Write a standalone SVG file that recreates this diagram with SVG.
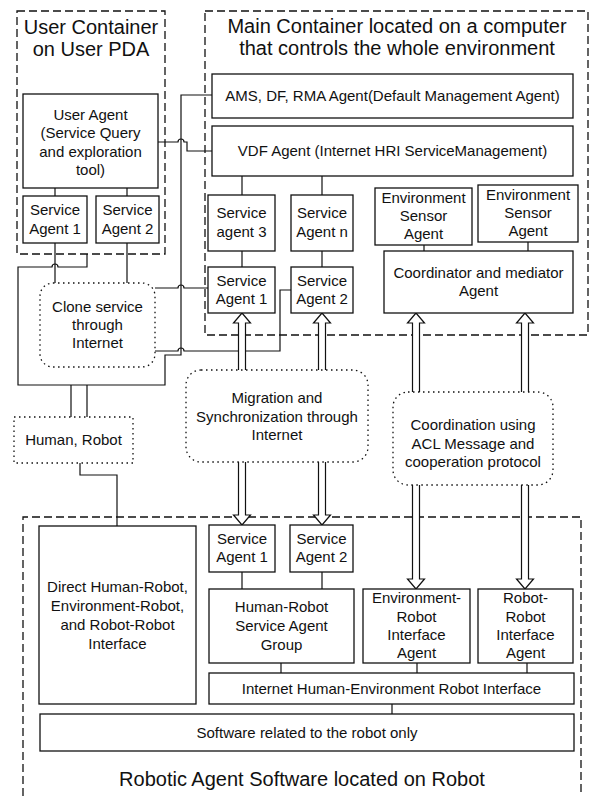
<svg xmlns="http://www.w3.org/2000/svg" width="590" height="796" viewBox="0 0 590 796">
<style>
text{font-family:"Liberation Sans",Arial,sans-serif;font-size:15px;fill:#111;text-anchor:middle}
.t{font-size:20px}
.box{fill:#fff;stroke:#111;stroke-width:1.3}
.cont{fill:none;stroke:#111;stroke-width:1.3;stroke-dasharray:8,4}
.dot{fill:#fff;stroke:#111;stroke-width:1.3;stroke-dasharray:1.5,3.5}
.ln{fill:none;stroke:#111;stroke-width:1.2}
.arr{fill:#fff;stroke:#111;stroke-width:1.2}
</style>
<rect width="590" height="796" fill="#fff"/>
<g id="user-container">
<rect class="cont" x="17" y="11" width="148" height="243"/>
<text class="t" x="91" y="34">User Container</text>
<text class="t" x="91" y="56">on User PDA</text>
</g>
<g id="main-container">
<rect class="cont" x="205" y="11" width="383" height="324"/>
<text class="t" x="397" y="33">Main Container located on a computer</text>
<text class="t" x="397" y="55">that controls the whole environment</text>
</g>
<g id="robot-container">
<path class="cont" d="M23,796 V517 H581 V796"/>
<text class="t" x="302" y="786">Robotic Agent Software located on Robot</text>
</g>
<g id="connectors">
<path class="ln" d="M212,95 H181 V355 H165 V385 H18 V267 H52 a3,3 0 0 1 6,0 H87 V254"/>
<path class="ln" d="M71,385 V417 M87,385 V417"/>
<path class="ln" d="M158,142 H178 a3,3 0 0 1 6,0 H187 V151 H212"/>
<path class="ln" d="M155,288 H178 a3,3 0 0 1 6,0 H208"/>
<path class="ln" d="M155,351 H178 a3,3 0 0 1 6,0 H280 V290 H291"/>
<path class="ln" d="M55,243 V283 M127,243 V283 M55,188 V196 M127,188 V196"/>
<path class="ln" d="M242,176 V195 M322,176 V195 M242,251 V267 M322,251 V267"/>
<path class="ln" d="M424,245 V251 M528,242 V251"/>
<path class="ln" d="M80,463 V475 H117 V526"/>
<path class="ln" d="M242,572 V589 M322,572 V589"/>
<path class="ln" d="M281,663 V673 M417,663 V673 M527,663 V673 M392,704 V714"/>
<path class="arr" d="M238.5,370 V323 H233.5 L242,313 L250.5,323 H245.5 V370"/>
<path class="arr" d="M318.5,370 V323 H313.5 L322,313 L330.5,323 H325.5 V370"/>
<path class="arr" d="M412.5,392 V323 H407.5 L416,313 L424.5,323 H419.5 V392"/>
<path class="arr" d="M521.5,392 V323 H516.5 L525,313 L533.5,323 H528.5 V392"/>
<path class="arr" d="M238.5,462 V515 H233.5 L242,525 L250.5,515 H245.5 V462"/>
<path class="arr" d="M318.5,462 V515 H313.5 L322,525 L330.5,515 H325.5 V462"/>
<path class="arr" d="M412.5,485 V579 H407.5 L416,589 L424.5,579 H419.5 V485"/>
<path class="arr" d="M521.5,485 V579 H516.5 L525,589 L533.5,579 H528.5 V485"/>
</g>
<g id="user-agent">
<rect class="box" x="23" y="94" width="135" height="94"/>
<text x="90.5" y="120">User Agent</text>
<text x="90.5" y="138">(Service Query</text>
<text x="90.5" y="157">and exploration</text>
<text x="90.5" y="175">tool)</text>
</g>
<g id="user-sa1">
<rect class="box" x="23" y="196" width="64" height="47"/>
<text x="55" y="215">Service</text>
<text x="55" y="234">Agent 1</text>
</g>
<g id="user-sa2">
<rect class="box" x="96" y="196" width="63" height="47"/>
<text x="127.5" y="215">Service</text>
<text x="127.5" y="234">Agent 2</text>
</g>
<g id="ams">
<rect class="box" x="212" y="74" width="361" height="44"/>
<text x="392.5" y="101">AMS, DF, RMA Agent(Default Management Agent)</text>
</g>
<g id="vdf">
<rect class="box" x="212" y="126" width="361" height="50"/>
<text x="392.5" y="156">VDF Agent (Internet HRI ServiceManagement)</text>
</g>
<g id="main-sa3">
<rect class="box" x="208" y="195" width="67" height="56"/>
<text x="241.5" y="218">Service</text>
<text x="241.5" y="237">agent 3</text>
</g>
<g id="main-san">
<rect class="box" x="291" y="195" width="62" height="56"/>
<text x="322" y="218">Service</text>
<text x="322" y="237">Agent n</text>
</g>
<g id="main-sa1">
<rect class="box" x="208" y="267" width="67" height="46"/>
<text x="241.5" y="286">Service</text>
<text x="241.5" y="304">Agent 1</text>
</g>
<g id="main-sa2">
<rect class="box" x="291" y="267" width="62" height="46"/>
<text x="322" y="286">Service</text>
<text x="322" y="304">Agent 2</text>
</g>
<g id="env-sensor-1">
<rect class="box" x="375" y="188" width="97" height="57"/>
<text x="423.5" y="203">Environment</text>
<text x="423.5" y="221">Sensor</text>
<text x="423.5" y="239">Agent</text>
</g>
<g id="env-sensor-2">
<rect class="box" x="478" y="185" width="100" height="57"/>
<text x="528" y="200">Environment</text>
<text x="528" y="218">Sensor</text>
<text x="528" y="236">Agent</text>
</g>
<g id="coordinator">
<rect class="box" x="384" y="251" width="189" height="62"/>
<text x="478.5" y="278">Coordinator and mediator</text>
<text x="478.5" y="296">Agent</text>
</g>
<g id="clone">
<rect class="dot" x="40" y="283" width="115" height="84" rx="13"/>
<text x="97.5" y="312">Clone service</text>
<text x="97.5" y="330">through</text>
<text x="97.5" y="348">Internet</text>
</g>
<g id="human-robot">
<rect class="dot" x="14" y="417" width="119" height="46"/>
<text x="73.5" y="445">Human, Robot</text>
</g>
<g id="migration">
<rect class="dot" x="186" y="370" width="182" height="92" rx="15"/>
<text x="277" y="403">Migration and</text>
<text x="277" y="422">Synchronization through</text>
<text x="277" y="440">Internet</text>
</g>
<g id="coordination">
<rect class="dot" x="393" y="392" width="160" height="93" rx="15"/>
<text x="473" y="430">Coordination using</text>
<text x="473" y="449">ACL Message and</text>
<text x="473" y="467">cooperation protocol</text>
</g>
<g id="direct">
<rect class="box" x="39" y="526" width="157" height="178"/>
<text x="117.5" y="592">Direct Human-Robot,</text>
<text x="117.5" y="611">Environment-Robot,</text>
<text x="117.5" y="630">and Robot-Robot</text>
<text x="117.5" y="649">Interface</text>
</g>
<g id="robot-sa1">
<rect class="box" x="209" y="525" width="66" height="47"/>
<text x="242" y="544">Service</text>
<text x="242" y="562">Agent 1</text>
</g>
<g id="robot-sa2">
<rect class="box" x="290" y="525" width="63" height="47"/>
<text x="321.5" y="544">Service</text>
<text x="321.5" y="562">Agent 2</text>
</g>
<g id="hr-group">
<rect class="box" x="209" y="589" width="145" height="74"/>
<text x="281.5" y="612">Human-Robot</text>
<text x="281.5" y="631">Service Agent</text>
<text x="281.5" y="650">Group</text>
</g>
<g id="env-robot">
<rect class="box" x="363" y="589" width="107" height="74"/>
<text x="416.5" y="603">Environment-</text>
<text x="416.5" y="622">Robot</text>
<text x="416.5" y="640">Interface</text>
<text x="416.5" y="658">Agent</text>
</g>
<g id="robot-robot">
<rect class="box" x="478" y="589" width="95" height="74"/>
<text x="525.5" y="603">Robot-</text>
<text x="525.5" y="622">Robot</text>
<text x="525.5" y="640">Interface</text>
<text x="525.5" y="658">Agent</text>
</g>
<g id="ihe">
<rect class="box" x="209" y="673" width="365" height="31"/>
<text x="391.5" y="694">Internet Human-Environment Robot Interface</text>
</g>
<g id="software">
<rect class="box" x="40" y="714" width="534" height="37"/>
<text x="307" y="738">Software related to the robot only</text>
</g>
</svg>
